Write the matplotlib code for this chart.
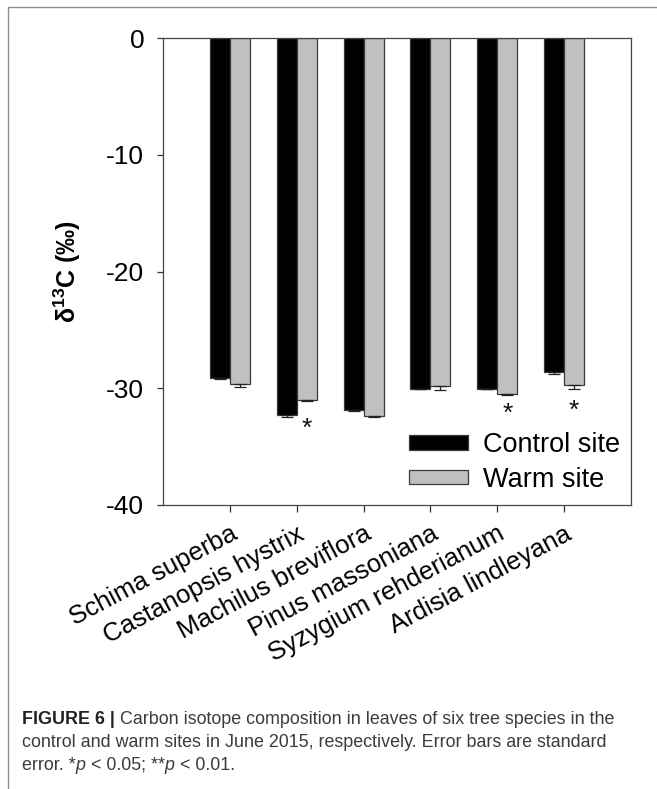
import matplotlib
matplotlib.use("Agg")
import matplotlib.pyplot as plt
import matplotlib.transforms as mtransforms
from matplotlib.patches import Rectangle
import numpy as np

plt.rcParams["font.family"] = ["Liberation Sans", "DejaVu Sans"]
plt.rcParams["mathtext.fontset"] = "custom"
plt.rcParams["mathtext.rm"] = "Liberation Sans"
plt.rcParams["mathtext.bf"] = "Liberation Sans:bold"
plt.rcParams["mathtext.it"] = "Liberation Sans:italic"

# Species and leaf δ13C (‰) at the two sites
species = ["Schima superba", "Castanopsis hystrix", "Machilus breviflora",
           "Pinus massoniana", "Syzygium rehderianum", "Ardisia lindleyana"]
control_mean = [-29.1, -32.3, -31.9, -30.05, -30.05, -28.6]
control_se = [0.15, 0.2, 0.05, 0.03, 0.05, 0.17]
warm_mean = [-29.6, -31.0, -32.4, -29.8, -30.5, -29.7]
warm_se = [0.3, 0.05, 0.05, 0.35, 0.05, 0.35]
# significance marks under the warm-site bars
sig_marks = ["", "*", "", "", "*", "*"]
sig_y = [None, -33.5, None, None, -32.2, -31.95]

yticks = [0, -10, -20, -30, -40]

W, H = 657, 789
fig = plt.figure(figsize=(W / 100, H / 100), dpi=100)

# light frame around the figure panel
fig.add_artist(Rectangle((8 / W, -0.1), 1.2, 1 - 7 / H + 0.1, transform=fig.transFigure,
                         fill=False, edgecolor="#8c8c8c", linewidth=1.0))

ax = fig.add_axes([163 / W, 1 - 505 / H, 468 / W, 467 / H])

x = np.arange(len(species))
bw = 0.3
edge = "#3a3a3a"
ax.bar(x - bw / 2, control_mean, bw, color="black", edgecolor=edge, linewidth=0.9,
       label="Control site", zorder=2)
ax.bar(x + bw / 2, warm_mean, bw, color="#c0c0c0", edgecolor=edge, linewidth=0.9,
       label="Warm site", zorder=2)

ax.errorbar(x - bw / 2, control_mean, yerr=[control_se, np.zeros(len(x))], fmt="none",
            ecolor="#222222", elinewidth=0.9, capsize=4.3, capthick=0.9, zorder=3)
ax.errorbar(x + bw / 2, warm_mean, yerr=[warm_se, np.zeros(len(x))], fmt="none",
            ecolor="#222222", elinewidth=0.9, capsize=4.3, capthick=0.9, zorder=3)

for xi, m, yy in zip(x, sig_marks, sig_y):
    if m:
        ax.text(xi + bw / 2, yy, m, ha="center", va="center", fontsize=19, color="#111111")

ax.set_xlim(-1, 6)
ax.set_ylim(-40, 0)
ax.set_yticks(yticks)
ax.set_yticklabels([str(t) for t in yticks], fontsize=19)
ax.set_xticks(x)
ax.set_xticklabels(species, fontsize=18.5, rotation=28, ha="right", va="top",
                   rotation_mode="anchor")
shift = mtransforms.ScaledTranslation(5 / 100, 0, fig.dpi_scale_trans)
for lab in ax.get_xticklabels():
    lab.set_transform(lab.get_transform() + shift)

ax.tick_params(axis="y", direction="out", length=4.5, width=0.9, pad=9, color="#333333")
ax.tick_params(axis="x", direction="out", length=5, width=0.9, pad=7, color="#333333")
for s in ax.spines.values():
    s.set_linewidth(0.9)
    s.set_color("#444444")

ax.set_ylabel("δ$^{\\mathbf{13}}$C (‰)", fontsize=18, fontweight="bold")
ax.yaxis.set_label_coords(-0.17, 0.5)

leg = ax.legend(loc="lower right", bbox_to_anchor=(1.0, 0.003), frameon=False,
                fontsize=19.5, handlelength=2.2, handleheight=0.45, handletextpad=0.55,
                labelspacing=0.32, borderaxespad=0.0)

# caption
cap_font = ["Liberation Sans", "DejaVu Sans"]
cap_size = 12.9
cap_color = "#3c3c3c"
y1 = 1 - 724 / H
t = fig.text(22 / W, y1, "FIGURE 6 | ", fontsize=cap_size, fontweight="bold",
             color="#222222", family=cap_font, ha="left", va="baseline")
fig.canvas.draw()
t2 = fig.text(0, 0, "Carbon isotope composition in leaves of six tree species in the",
              fontsize=cap_size, color=cap_color, family=cap_font, ha="left", va="baseline")
bb = t.get_window_extent()
t2.set_position((bb.x1 / W, y1))

fig.text(22 / W, 1 - 747 / H,
         "control and warm sites in June 2015, respectively. Error bars are standard",
         fontsize=cap_size, color=cap_color, family=cap_font, ha="left", va="baseline")

# last caption line with italic p
y3 = 1 - 770 / H
parts = [("error. *", "normal"), ("p", "italic"), (" < 0.05; **", "normal"),
         ("p", "italic"), (" < 0.01.", "normal")]
xpos = 22
for txt, sty in parts:
    a = fig.text(xpos / W, y3, txt, fontsize=cap_size, color=cap_color, style=sty,
                 family=cap_font, ha="left", va="baseline")
    fig.canvas.draw()
    xpos = a.get_window_extent().x1

fig.savefig("out.png", dpi=100)
